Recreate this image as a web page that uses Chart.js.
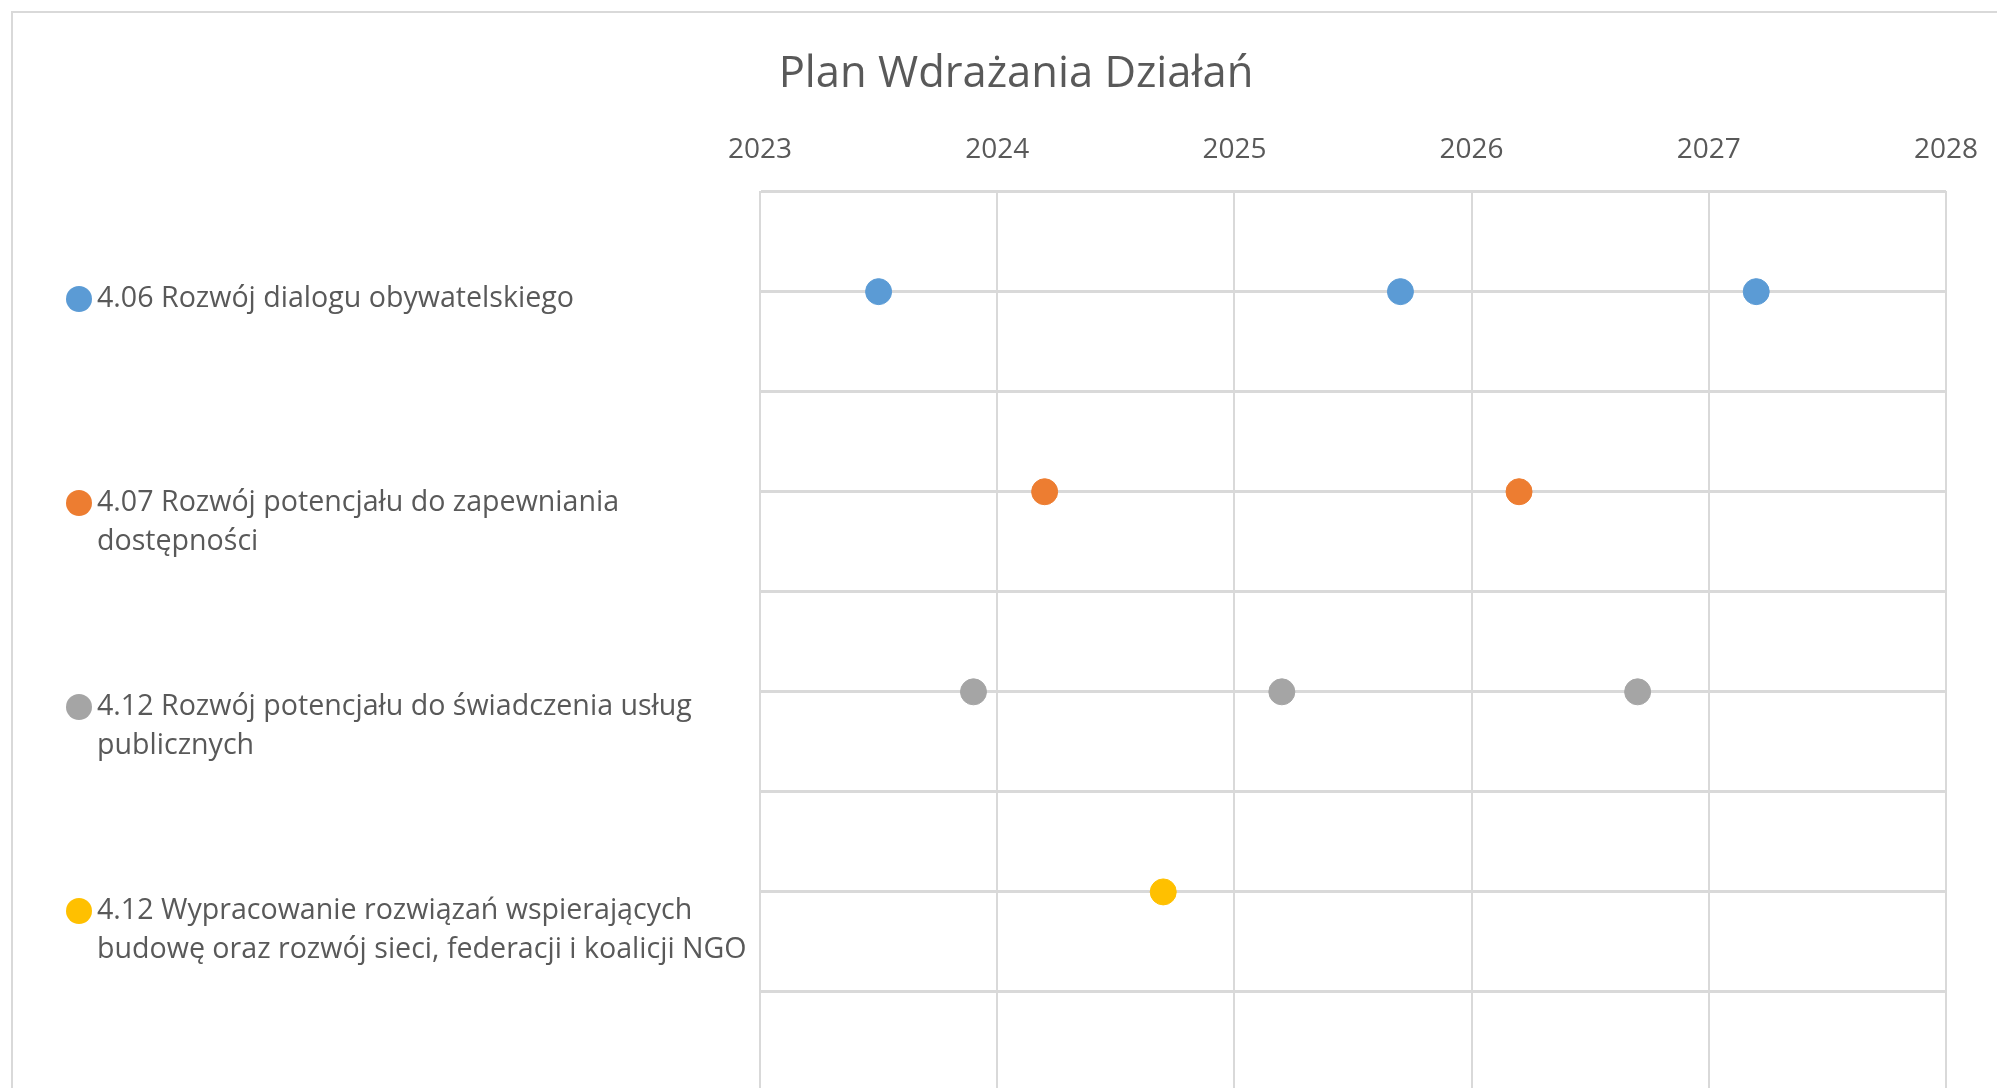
<!DOCTYPE html>
<html>
<head>
<meta charset="utf-8">
<script src="https://cdn.jsdelivr.net/npm/chart.js@4"></script>
<style>
  html, body { margin: 0; padding: 0; background: #fff; overflow: hidden; }
  #wrap { position: absolute; left: 0; top: 0; width: 1997px; height: 1106px; }
</style>
</head>
<body>
<div id="wrap"><canvas id="plan" width="1997" height="1106"></canvas></div>
<script>
// Chart data
const chartTitle = 'Plan Wdrażania Działań';
const actionLabels = [
    ['4.06 Rozwój dialogu obywatelskiego'],
    ['4.07 Rozwój potencjału do zapewniania', 'dostępności'],
    ['4.12 Rozwój potencjału do świadczenia usług', 'publicznych'],
    ['4.12 Wypracowanie rozwiązań wspierających', 'budowę oraz rozwój sieci, federacji i koalicji NGO']
];
const actionRows = [0.5, 1.5, 2.5, 3.5];
const years406 = [2023.5, 2025.7, 2027.2];
const years407 = [2024.2, 2026.2];
const years412a = [2023.9, 2025.2, 2026.7];
const years412b = [2024.7];
const yearTicks = [2023, 2024, 2025, 2026, 2027, 2028];
const colors = ['#5B9BD5', '#ED7D31', '#A5A5A5', '#FFC000'];

const allYears = [years406, years407, years412a, years412b];
const textColor = '#595959';
const gridColor = '#d9d9d9';
const fontFamily = '"Open Sans", "Noto Sans", sans-serif';

const datasets = allYears.map((ys, i) => ({
    label: actionLabels[i].join(' '),
    data: ys.map(y => ({ x: y, y: actionRows[i] })),
    backgroundColor: colors[i],
    borderColor: colors[i],
    pointRadius: 13,
    pointHoverRadius: 13,
    showLine: false
}));

// frame, title and left legend drawn on the canvas
const decorPlugin = {
    id: 'decor',
    beforeDraw(chart) {
        const c = chart.ctx;
        c.save();
        c.strokeStyle = gridColor;
        c.lineWidth = 2;
        c.strokeRect(12, 12, 3000, 3000);
        c.restore();
    },
    afterDraw(chart) {
        const c = chart.ctx;
        c.save();
        c.fillStyle = textColor;
        c.font = '43.5px ' + fontFamily;
        c.textAlign = 'center';
        c.textBaseline = 'middle';
        c.fillText(chartTitle, 1016, 75);

        c.font = '28.6px ' + fontFamily;
        c.textAlign = 'left';
        actionLabels.forEach((lines, i) => {
            const y0 = 299 + i * 204;
            c.fillStyle = colors[i];
            c.beginPath();
            c.arc(79, y0, 13, 0, Math.PI * 2);
            c.fill();
            c.fillStyle = textColor;
            lines.forEach((t, k) => c.fillText(t, 97, y0 + k * 39));
        });
        c.restore();
    }
};

new Chart(document.getElementById('plan'), {
    type: 'scatter',
    data: { datasets },
    options: {
        responsive: false,
        animation: false,
        layout: { padding: { left: 760, right: 51, top: 108, bottom: 8 } },
        plugins: {
            legend: { display: false },
            title: { display: false },
            tooltip: { enabled: false }
        },
        scales: {
            x: {
                position: 'top',
                min: yearTicks[0],
                max: yearTicks[yearTicks.length - 1],
                afterBuildTicks: axis => { axis.ticks = yearTicks.map(v => ({ value: v })); },
                afterFit: axis => { axis.paddingLeft = 0; axis.paddingRight = 0; },
                ticks: {
                    color: textColor,
                    font: { family: fontFamily, size: 28 },
                    padding: 25,
                    callback: v => String(v)
                },
                grid: { color: gridColor, lineWidth: 2, drawTicks: false },
                border: { color: gridColor, width: 2 }
            },
            y: {
                reverse: true,
                min: 0,
                max: 4.5,
                ticks: { display: false, stepSize: 0.5 },
                grid: { color: gridColor, lineWidth: 3, drawTicks: false },
                border: { color: gridColor, width: 2 }
            }
        }
    },
    plugins: [decorPlugin]
});
</script>
</body>
</html>
